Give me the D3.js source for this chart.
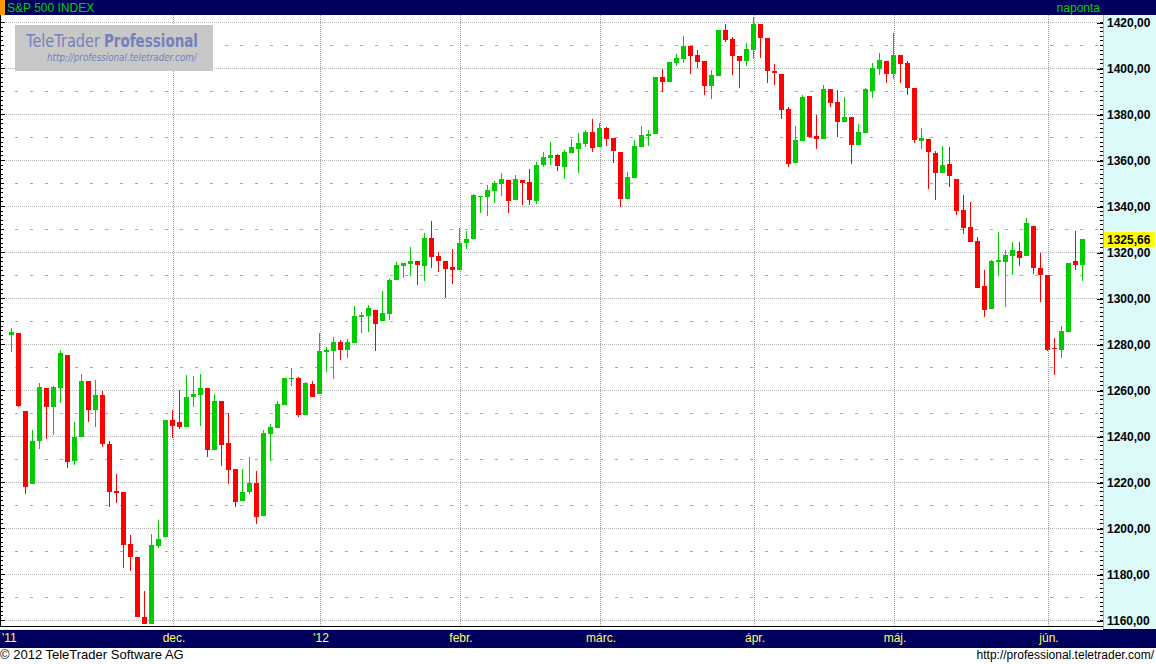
<!DOCTYPE html>
<html><head><meta charset="utf-8">
<script src="https://cdn.jsdelivr.net/npm/d3@7"></script>
<style>html,body{margin:0;padding:0;background:#fff;overflow:hidden}svg{display:block}</style>
</head><body><svg id="c" width="1156" height="664"></svg>
<script>
// ---------------- DATA ----------------
const title = "S&P 500 INDEX";
const period = "naponta";
const lastPriceLabel = "1325,66";
const dates = [
"2011-10-28","2011-10-31",
"2011-11-01","2011-11-02","2011-11-03","2011-11-04","2011-11-07","2011-11-08","2011-11-09","2011-11-10","2011-11-11","2011-11-14","2011-11-15","2011-11-16","2011-11-17","2011-11-18","2011-11-21","2011-11-22","2011-11-23","2011-11-25","2011-11-28","2011-11-29","2011-11-30",
"2011-12-01","2011-12-02","2011-12-05","2011-12-06","2011-12-07","2011-12-08","2011-12-09","2011-12-12","2011-12-13","2011-12-14","2011-12-15","2011-12-16","2011-12-19","2011-12-20","2011-12-21","2011-12-22","2011-12-23","2011-12-27","2011-12-28","2011-12-29","2011-12-30",
"2012-01-03","2012-01-04","2012-01-05","2012-01-06","2012-01-09","2012-01-10","2012-01-11","2012-01-12","2012-01-13","2012-01-17","2012-01-18","2012-01-19","2012-01-20","2012-01-23","2012-01-24","2012-01-25","2012-01-26","2012-01-27","2012-01-30","2012-01-31",
"2012-02-01","2012-02-02","2012-02-03","2012-02-06","2012-02-07","2012-02-08","2012-02-09","2012-02-10","2012-02-13","2012-02-14","2012-02-15","2012-02-16","2012-02-17","2012-02-21","2012-02-22","2012-02-23","2012-02-24","2012-02-27","2012-02-28","2012-02-29",
"2012-03-01","2012-03-02","2012-03-05","2012-03-06","2012-03-07","2012-03-08","2012-03-09","2012-03-12","2012-03-13","2012-03-14","2012-03-15","2012-03-16","2012-03-19","2012-03-20","2012-03-21","2012-03-22","2012-03-23","2012-03-26","2012-03-27","2012-03-28","2012-03-29","2012-03-30",
"2012-04-02","2012-04-03","2012-04-04","2012-04-05","2012-04-09","2012-04-10","2012-04-11","2012-04-12","2012-04-13","2012-04-16","2012-04-17","2012-04-18","2012-04-19","2012-04-20","2012-04-23","2012-04-24","2012-04-25","2012-04-26","2012-04-27","2012-04-30",
"2012-05-01","2012-05-02","2012-05-03","2012-05-04","2012-05-07","2012-05-08","2012-05-09","2012-05-10","2012-05-11","2012-05-14","2012-05-15","2012-05-16","2012-05-17","2012-05-18","2012-05-21","2012-05-22","2012-05-23","2012-05-24","2012-05-25","2012-05-29","2012-05-30","2012-05-31",
"2012-06-01","2012-06-04","2012-06-05","2012-06-06","2012-06-07","2012-06-08"];
const open = [1284.39,1284.96,
1251.00,1219.62,1238.25,1260.82,1253.21,1261.12,1275.18,1229.59,1240.12,1263.85,1251.70,1257.81,1236.56,1216.19,1215.62,1192.98,1187.48,1161.41,1158.67,1192.56,1196.72,
1246.91,1246.03,1244.33,1257.19,1258.14,1260.87,1234.48,1255.05,1236.83,1225.73,1212.12,1216.09,1219.74,1205.72,1241.25,1243.72,1254.00,1265.02,1265.38,1249.75,1262.82,
1258.86,1277.03,1277.30,1280.93,1277.83,1280.77,1292.02,1292.48,1294.82,1290.22,1293.65,1308.07,1314.49,1315.29,1315.96,1314.40,1326.28,1318.25,1316.16,1313.53,
1312.45,1324.24,1326.21,1344.32,1344.33,1347.04,1349.97,1351.21,1343.06,1351.30,1350.52,1342.61,1358.06,1361.22,1362.11,1357.53,1363.46,1365.20,1367.56,1372.20,
1365.90,1374.09,1369.59,1363.63,1343.39,1352.65,1365.97,1370.78,1371.92,1395.95,1394.17,1402.55,1404.17,1409.59,1405.52,1402.89,1392.78,1397.11,1416.55,1412.52,1405.39,1403.31,
1408.47,1418.98,1413.09,1398.79,1397.45,1382.18,1358.98,1368.77,1387.61,1370.27,1369.57,1390.78,1385.08,1376.96,1378.53,1366.97,1372.11,1390.64,1400.19,1403.26,
1397.86,1405.50,1402.32,1391.51,1368.79,1369.16,1363.20,1354.58,1358.11,1351.93,1338.36,1330.78,1324.82,1305.05,1295.73,1316.09,1316.02,1318.72,1320.64,1318.90,1331.25,1313.09,
1309.87,1278.29,1277.82,1285.61,1316.15,1314.99];
const high = [1287.08,1284.96,
1251.00,1242.48,1263.21,1260.82,1261.70,1277.55,1275.18,1246.22,1266.98,1263.85,1264.25,1259.61,1237.73,1223.51,1215.62,1196.81,1187.48,1172.66,1197.35,1203.67,1247.11,
1251.09,1260.08,1266.73,1266.03,1267.06,1260.87,1258.25,1255.05,1249.86,1225.73,1225.60,1231.04,1224.57,1242.82,1245.09,1255.22,1265.42,1269.37,1265.85,1263.54,1264.12,
1284.62,1278.73,1283.05,1281.84,1281.99,1296.46,1293.80,1296.82,1294.82,1303.00,1308.11,1315.49,1315.38,1322.28,1315.96,1328.30,1333.47,1320.06,1316.16,1321.41,
1330.52,1329.19,1345.34,1344.36,1349.24,1351.00,1354.32,1351.21,1353.35,1351.30,1355.87,1359.02,1363.40,1367.76,1362.70,1364.24,1368.92,1371.94,1373.09,1378.04,
1376.17,1374.53,1369.59,1363.63,1354.85,1368.72,1374.76,1373.04,1396.13,1399.42,1402.63,1405.88,1414.00,1409.59,1407.75,1402.89,1399.18,1416.58,1419.15,1413.65,1405.39,1410.89,
1422.38,1419.00,1413.09,1401.60,1397.45,1383.01,1374.71,1388.13,1387.61,1379.66,1392.76,1390.78,1390.46,1387.40,1378.53,1375.57,1391.37,1402.09,1406.64,1403.26,
1415.32,1405.50,1403.07,1391.51,1373.91,1369.16,1363.73,1365.88,1365.66,1351.93,1344.94,1341.78,1326.36,1312.24,1316.39,1328.49,1320.71,1324.14,1324.20,1334.93,1331.25,1319.74,
1309.87,1282.55,1287.62,1315.13,1329.05,1325.81];
const low = [1277.01,1253.16,
1215.42,1219.62,1234.81,1238.92,1240.75,1254.99,1226.64,1227.70,1240.12,1246.68,1244.34,1235.67,1209.43,1211.36,1183.16,1181.65,1161.79,1158.66,1158.67,1191.80,1196.72,
1239.73,1243.35,1244.33,1253.03,1244.80,1231.47,1234.48,1227.25,1219.43,1209.47,1212.12,1215.20,1202.37,1205.72,1229.51,1243.72,1254.00,1262.30,1248.64,1249.75,1257.46,
1258.86,1268.10,1265.26,1273.34,1274.55,1280.77,1285.41,1285.77,1277.58,1290.22,1290.99,1308.07,1309.17,1309.89,1306.06,1307.65,1313.60,1311.72,1300.49,1306.69,
1312.45,1321.57,1326.21,1337.52,1335.92,1341.95,1344.63,1337.35,1343.06,1340.83,1340.80,1341.22,1357.24,1358.11,1355.53,1352.28,1363.46,1354.92,1365.97,1363.81,
1365.90,1366.42,1359.13,1340.03,1343.39,1352.65,1365.97,1366.69,1371.92,1389.97,1394.17,1401.47,1402.43,1397.68,1400.64,1388.73,1386.87,1397.11,1411.95,1397.20,1391.56,1401.42,
1404.46,1404.62,1394.09,1392.92,1378.24,1357.38,1358.98,1368.77,1369.85,1365.38,1369.57,1383.29,1370.30,1376.96,1358.79,1366.82,1372.11,1387.28,1397.31,1394.00,
1395.73,1393.92,1388.71,1367.96,1365.19,1347.75,1343.13,1354.58,1348.89,1336.61,1328.41,1324.79,1304.86,1291.98,1295.73,1310.04,1296.53,1310.50,1314.23,1318.90,1310.76,1298.90,
1277.25,1266.74,1274.16,1285.61,1312.68,1307.77];
const close = [1285.09,1253.30,
1218.28,1237.90,1261.15,1253.23,1261.12,1275.92,1229.10,1239.70,1263.85,1251.78,1257.81,1236.91,1216.13,1215.65,1192.98,1188.04,1161.79,1158.67,1192.55,1195.19,1246.96,
1244.58,1244.28,1257.08,1258.47,1261.01,1234.35,1255.19,1236.47,1225.73,1211.82,1215.75,1219.66,1205.35,1241.30,1243.72,1254.00,1265.33,1265.43,1249.64,1263.02,1257.60,
1277.06,1277.30,1281.06,1277.81,1280.70,1292.08,1292.48,1295.50,1289.09,1293.67,1308.04,1314.50,1315.38,1316.00,1314.65,1326.06,1318.43,1316.33,1313.01,1312.41,
1324.09,1325.54,1344.90,1344.33,1347.05,1349.96,1351.95,1342.64,1351.77,1350.50,1343.23,1358.04,1361.23,1362.21,1357.66,1363.46,1365.74,1367.59,1372.18,1365.68,
1374.09,1369.63,1364.33,1343.36,1352.63,1365.91,1370.87,1371.09,1395.95,1394.28,1402.60,1404.17,1409.75,1405.52,1402.89,1392.78,1397.11,1416.51,1412.52,1405.54,1403.28,1408.47,
1419.04,1413.38,1398.96,1398.08,1382.20,1358.59,1368.71,1387.57,1370.26,1369.57,1390.78,1385.14,1376.92,1378.53,1366.94,1371.97,1390.69,1399.98,1403.36,1397.91,
1405.82,1402.31,1391.57,1369.10,1369.58,1363.72,1354.58,1357.99,1353.39,1338.35,1330.66,1324.80,1304.86,1295.22,1315.99,1316.63,1318.86,1320.68,1317.82,1332.42,1313.32,1310.33,
1278.04,1278.18,1285.50,1315.13,1314.99,1325.66];
const yTicks = [1160,1180,1200,1220,1240,1260,1280,1300,1320,1340,1360,1380,1400,1420];
const yMidLevels = [1170,1190,1210,1230,1250,1270,1290,1310,1330,1350,1370,1390,1410];
const monthStarts = ["2011-12-01","2012-01-03","2012-02-01","2012-03-01","2012-04-02","2012-05-01","2012-06-01"];
const monthLabels = ["dec.","'12","febr.","márc.","ápr.","máj.","jún."];
const firstLabel = "'11";
const footerLeft = "© 2012 TeleTrader Software AG";
const footerRight = "http://professional.teletrader.com/";
const logoMain = "TeleTrader";
const logoBold = "Professional";
const logoUrl = "http://professional.teletrader.com/";

// ---------------- LAYOUT ----------------
const W = 1156, H = 664;
const plotL = 0, plotR = 1103, plotT = 15, plotB = 627;
const navy = "#00005c";
const green = "#00cc00", red = "#ff0000";

const svg = d3.select("#c");
const data = dates.map((d,i)=>({d, o:open[i], h:high[i], l:low[i], c:close[i]}));

const x = d3.scalePoint().domain(dates).range([11.5, 1082.5]);
const y = d3.scaleLinear().domain([1160,1420]).range([620,22]);
const py = v => Math.round(y(v)) + 0.5;

svg.append("rect").attr("width",W).attr("height",H).attr("fill","#fff");

// header
svg.append("rect").attr("x",0).attr("y",0).attr("width",W).attr("height",15).attr("fill",navy);
svg.append("rect").attr("x",0).attr("y",0).attr("width",5).attr("height",15).attr("fill","#ff9900");
svg.append("text").attr("x",7).attr("y",12).attr("fill","#00d000")
  .style("font","12px 'Liberation Sans', Arial, sans-serif").text(title);
svg.append("text").attr("x",1100).attr("y",12).attr("text-anchor","end").attr("fill","#00d000")
  .style("font","12px 'Liberation Sans', Arial, sans-serif").text(period);

// plot
const plot = svg.append("g");
plot.selectAll("line.hg").data(yTicks).join("line").attr("class","hg")
  .attr("x1",plotL).attr("x2",plotR-4).attr("y1",d=>py(d)).attr("y2",d=>py(d))
  .attr("stroke","#b4b4b4").attr("stroke-dasharray","1,1").attr("shape-rendering","crispEdges");
plot.selectAll("line.mg").data(yMidLevels).join("line").attr("class","mg")
  .attr("x1",plotL+15).attr("x2",plotR-4).attr("y1",d=>py(d)).attr("y2",d=>py(d))
  .attr("stroke","#a8a8a8").attr("stroke-dasharray","3,12").attr("shape-rendering","crispEdges");
plot.selectAll("line.vg").data(monthStarts).join("line").attr("class","vg")
  .attr("x1",d=>x(d)+1).attr("x2",d=>x(d)+1).attr("y1",plotT).attr("y2",plotB)
  .attr("stroke","#a0a0a0").attr("stroke-dasharray","1,1").attr("shape-rendering","crispEdges");

// left / right minor ticks
const minorVals = d3.range(1160,1421,2);
plot.append("line").attr("x1",0.5).attr("x2",0.5).attr("y1",plotT).attr("y2",plotB).attr("stroke","#000");
plot.selectAll("line.lt").data(minorVals).join("line").attr("class","lt")
  .attr("x1",0).attr("x2",d=> d%20===0 ? 5 : (d%10===0 ? 4 : 3))
  .attr("y1",d=>py(d)).attr("y2",d=>py(d)).attr("stroke","#000").attr("shape-rendering","crispEdges");
plot.selectAll("line.rt").data(minorVals).join("line").attr("class","rt")
  .attr("x1",plotR-3).attr("x2",plotR)
  .attr("y1",d=>py(d)).attr("y2",d=>py(d)).attr("stroke","#000").attr("shape-rendering","crispEdges");

// candles
const cg = plot.append("g").attr("shape-rendering","crispEdges");
const col = d => d.c >= d.o ? green : red;
cg.selectAll("line.w").data(data).join("line").attr("class","w")
  .attr("x1",d=>x(d.d)).attr("x2",d=>x(d.d))
  .attr("y1",d=>Math.round(y(d.h))).attr("y2",d=>Math.round(y(d.l))+1)
  .attr("stroke",col).attr("stroke-width",1);
cg.selectAll("rect.b").data(data).join("rect").attr("class","b")
  .attr("x",d=>x(d.d)-2.5).attr("width",5)
  .attr("y",d=>Math.round(y(Math.max(d.o,d.c))))
  .attr("height",d=>Math.max(1, Math.round(y(Math.min(d.o,d.c))) - Math.round(y(Math.max(d.o,d.c))) + 1))
  .attr("fill",col);

svg.append("line").attr("x1",0).attr("x2",plotR).attr("y1",626.5).attr("y2",626.5).attr("stroke","#000");

// logo (texts squeezed to the reference widths with a horizontal scale)
svg.append("rect").attr("x",15).attr("y",25).attr("width",198).attr("height",46).attr("fill","#c8c8c8");
function fitText(str, x0, y0, width, font){
  const t = svg.append("text").attr("x",0).attr("y",0).attr("fill","#7480bc").style("font",font).text(str);
  const w = t.node().getComputedTextLength();
  t.attr("transform",`translate(${x0},${y0}) scale(${width/w},1)`);
  return t;
}
fitText(logoMain, 26, 47, 74, "17px 'DejaVu Sans', Verdana, sans-serif");
fitText(logoBold, 104, 47, 94, "bold 17px 'DejaVu Sans', Verdana, sans-serif");
fitText(logoUrl, 47, 61, 150, "italic 11px 'DejaVu Sans', Verdana, sans-serif");

// y axis panel
svg.append("rect").attr("x",plotR+1).attr("y",15).attr("width",W-plotR-1).attr("height",615).attr("fill","#dcfafa");
svg.append("line").attr("x1",plotR+0.5).attr("x2",plotR+0.5).attr("y1",15).attr("y2",630).attr("stroke","#f0a020");
const yAxis = d3.axisRight(y).tickValues(yTicks).tickSizeInner(-6).tickSizeOuter(0).tickPadding(4)
  .tickFormat(d=>d3.format(".2f")(d).replace(".",","));
const ya = svg.append("g").attr("transform",`translate(${plotR},0.5)`).call(yAxis);
ya.select(".domain").remove();
ya.selectAll("line").attr("stroke","#000").attr("shape-rendering","crispEdges");
ya.selectAll("text").attr("fill","#000").style("font","bold 12px 'Liberation Sans', Arial, sans-serif");

// last price label
const lp = y(close[close.length-1]);
svg.append("rect").attr("x",plotR+1).attr("y",Math.round(lp)-7).attr("width",51).attr("height",15).attr("fill","#ffff00");
svg.append("text").attr("x",plotR+4).attr("y",Math.round(lp)+5).attr("fill","#000")
  .style("font","bold 12px 'Liberation Sans', Arial, sans-serif").text(lastPriceLabel);

// x axis band
svg.append("rect").attr("x",0).attr("y",629).attr("width",W).attr("height",19).attr("fill",navy);
svg.append("line").attr("x1",0).attr("x2",plotR).attr("y1",629.5).attr("y2",629.5).attr("stroke","#ffff66");
svg.append("line").attr("x1",plotR+0.5).attr("x2",plotR+0.5).attr("y1",630).attr("y2",648).attr("stroke","#000020");
const xAxis = d3.axisBottom(x).tickValues(monthStarts).tickSize(2).tickFormat((d,i)=>monthLabels[i]);
const xa = svg.append("g").attr("transform","translate(1,628)").call(xAxis);
xa.select(".domain").remove();
xa.selectAll("line").attr("stroke","#ffff66");
xa.selectAll("text").attr("fill","#ffff66").attr("dy",0).attr("y",14)
  .style("font","12px 'Liberation Sans', Arial, sans-serif");
svg.append("text").attr("x",2).attr("y",642).attr("fill","#ffff66")
  .style("font","12px 'Liberation Sans', Arial, sans-serif").text(firstLabel);

// footer
svg.append("text").attr("x",0).attr("y",659).attr("fill","#000")
  .style("font","13px 'Liberation Sans', Arial, sans-serif").text(footerLeft);
svg.append("text").attr("x",1154).attr("y",659).attr("text-anchor","end").attr("fill","#000")
  .style("font","12px 'Liberation Sans', Arial, sans-serif").text(footerRight);
</script></body></html>
